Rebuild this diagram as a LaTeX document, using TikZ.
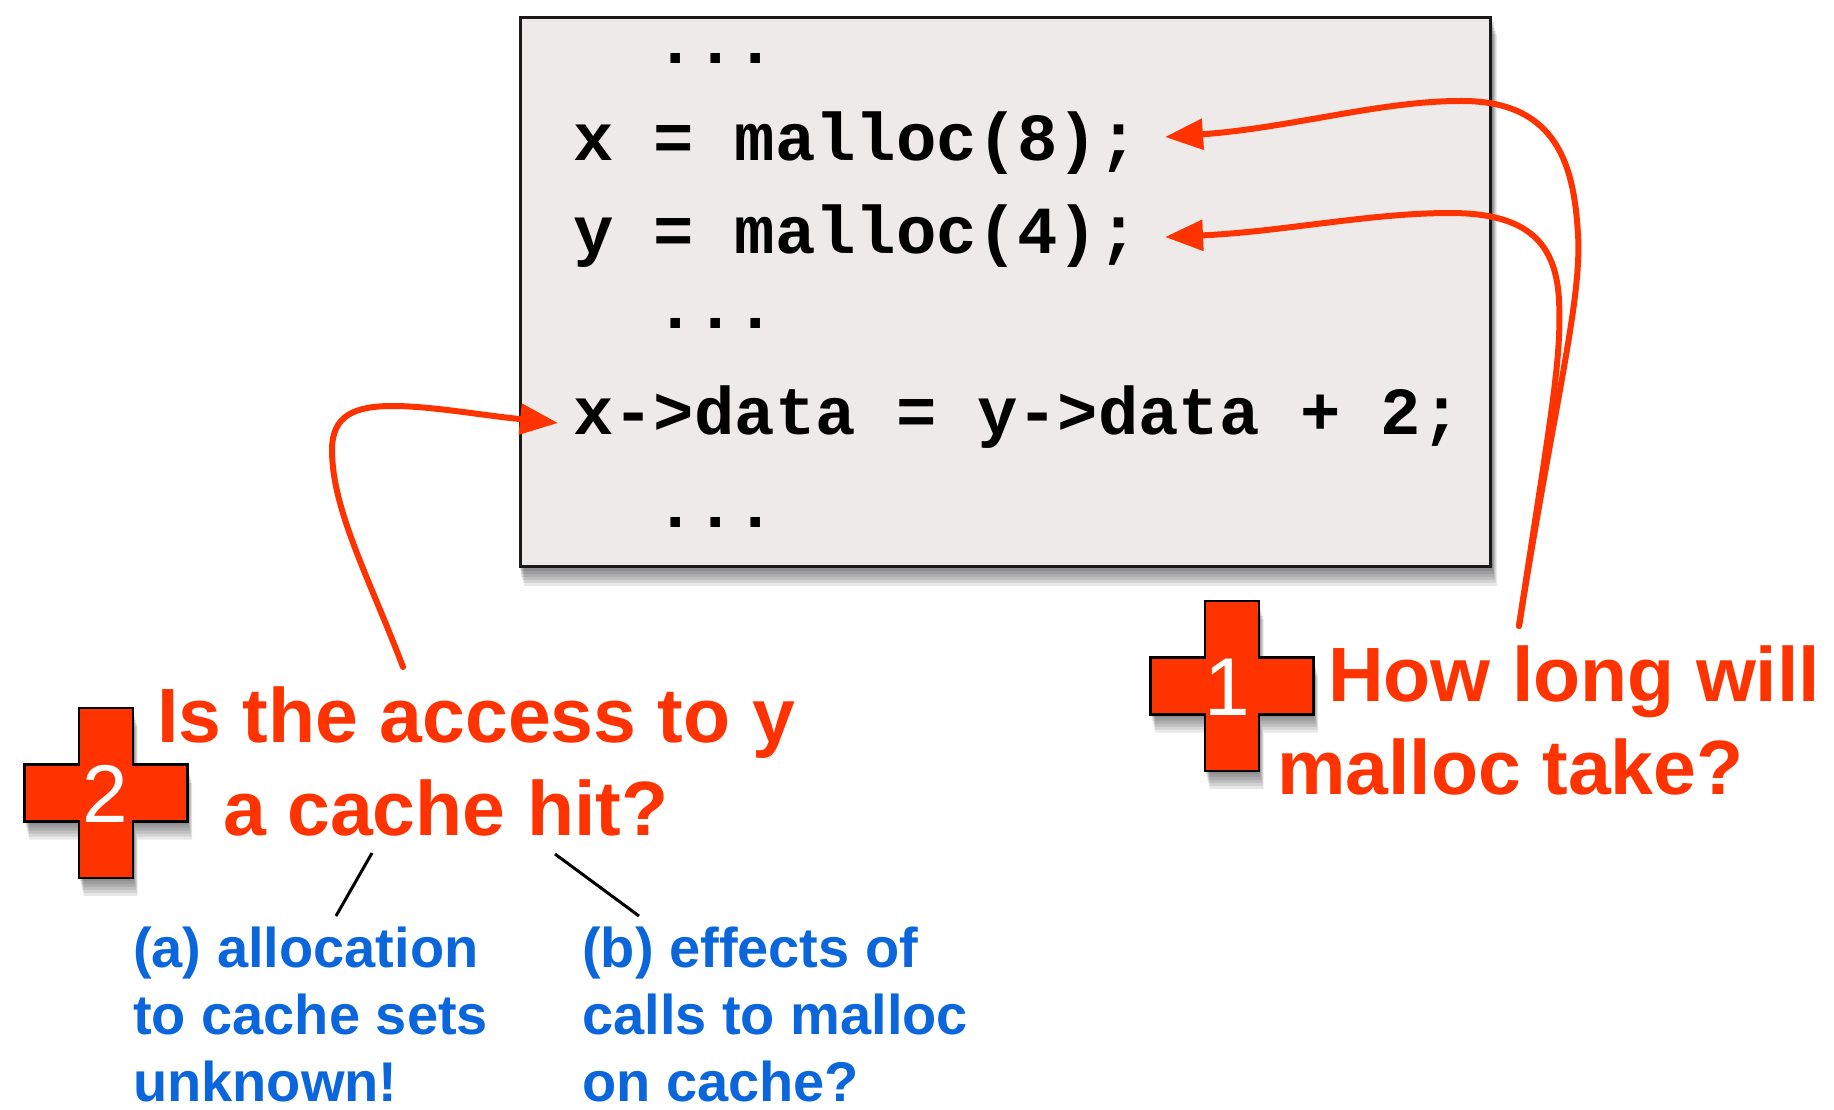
\documentclass[tikz,border=0pt]{standalone}
\usepackage{fontspec}
\setmainfont{Liberation Sans}
\newfontfamily\codefont{Liberation Mono}
\usetikzlibrary{arrows.meta}
\definecolor{hotred}{HTML}{FF3300}
\definecolor{boxgray}{HTML}{EEEAE9}
\definecolor{noteblue}{HTML}{0B66DC}
\newcommand{\crossoutline}{(-27,-85) -- (27,-85) -- (27,-28.5) -- (81.5,-28.5) -- (81.5,28.5) -- (27,28.5) -- (27,85) -- (-27,85) -- (-27,28.5) -- (-81.5,28.5) -- (-81.5,-28.5) -- (-27,-28.5) -- cycle}
\begin{document}
\begin{tikzpicture}[x=1pt,y=-1pt,
  codebox/.style={draw=black!90, line width=3pt, fill=boxgray,
    minimum width=970pt, minimum height=549pt, inner sep=0pt},
  codeline/.style={font=\codefont\bfseries\fontsize{67.3}{80}\selectfont, anchor=base west, inner sep=0pt},
  question/.style={font=\bfseries\fontsize{77}{90}\selectfont, text=hotred, anchor=base west, inner sep=0pt},
  note/.style={font=\bfseries\fontsize{56}{67}\selectfont, text=noteblue, anchor=base west, inner sep=0pt},
  digit/.style={font=\fontsize{82}{90}\selectfont, text=white, inner sep=0pt},
  callout/.style={draw=hotred, line width=6pt, line cap=round, -{Triangle[length=38pt,width=30pt]}},
  tickline/.style={draw=black, line width=3pt},
  crossbox/.style={fill=hotred, draw=black, line width=2.5pt},
  softshade/.style={fill=black, opacity=0.09},
  redcross/.pic={
    \foreach \d in {3,6,9,12,15,18} {\fill[softshade, shift={(0.25*\d,\d)}] \crossoutline;}
    \path[crossbox] \crossoutline;}
]
\useasboundingbox (0,0) rectangle (1834,1110);
\fill[white] (0,0) rectangle (1834,1110);

% code box with soft shadow
\foreach \d in {3,6,9,12,15,18} {\fill[softshade] (519+0.25*\d,16+\d) rectangle (1492+0.25*\d,568+\d);}
\node[codebox] (box) at (1005.5,292) {};
\node[codeline] (c1) at (655,64) {...};
\node[codeline] (c2) at (573,161) {x = malloc(8);};
\node[codeline] (c3) at (573,254) {y = malloc(4);};
\node[codeline] (c4) at (655,328) {...};
\node[codeline] (c5) at (573,434) {x->data = y->data + 2;};
\node[codeline] (c6) at (655,527) {...};

% crosses
\pic at (1232,686) {redcross};
\node[digit] (n1) at (1227,687) {1};
\pic at (106,793) {redcross};
\node[digit] (n2) at (105,794) {2};

% questions
\node[question] (q1a) at (1328,701) {How long will};
\node[question] (q1b) at (1277,794) {malloc take?};
\node[question] (q2a) at (157,742) {Is the access to y};
\node[question] (q2b) at (223,835) {a cache hit?};

% notes
\node[note] (na1) at (133,967) {(a) allocation};
\node[note] (na2) at (133,1034) {to cache sets};
\node[note] (na3) at (133,1101) {unknown!};
\node[note] (nb1) at (582,967) {(b) effects of};
\node[note] (nb2) at (582,1034) {calls to malloc};
\node[note] (nb3) at (582,1101) {on cache?};

% connector coordinates
\coordinate (s1) at (1519,626);
\coordinate (t1) at (1165,137);
\coordinate (t2) at (1165,237);
\coordinate (s2) at (403,667);
\coordinate (t3) at (558,423);
\coordinate (ka1) at (372,853);
\coordinate (ka2) at (336,916);
\coordinate (kb1) at (555,854);
\coordinate (kb2) at (639,916);

% arrows
\draw[callout] (s1) .. controls (1555,400) and (1582,300) .. (1578,234)
  .. controls (1574,170) and (1560,100) .. (1460,101)
  .. controls (1380,101) and (1290,128) .. (t1);
\draw[callout] (s1) .. controls (1550,420) and (1562,360) .. (1559,300)
  .. controls (1556,245) and (1530,213) .. (1450,213)
  .. controls (1370,213) and (1280,232) .. (t2);
\draw[callout] (s2) .. controls (370,580) and (332,510) .. (332,450)
  .. controls (332,415) and (355,406) .. (393,406)
  .. controls (430,406) and (480,415) .. (t3);

% ticks
\draw[tickline] (ka1) -- (ka2);
\draw[tickline] (kb1) -- (kb2);
\end{tikzpicture}
\end{document}
